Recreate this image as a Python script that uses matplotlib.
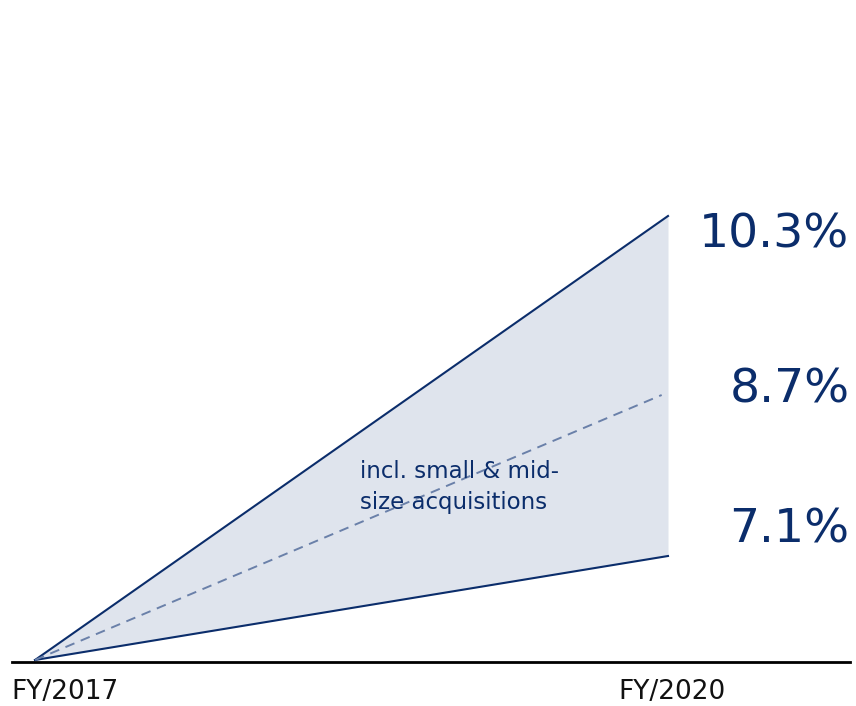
import matplotlib
matplotlib.use("Agg")
import matplotlib.pyplot as plt

# schematic growth corridor, FY/2017 -> FY/2020
years = [2017, 2020]
year_labels = ["FY/2017", "FY/2020"]
low_path = [0.0, 1.04]
mid_path = [0.0, 2.66]
high_path = [0.0, 4.44]
end_labels = ["7.1%", "8.7%", "10.3%"]
label_levels = [1.30, 2.70, 4.25]
note = "incl. small & mid-\nsize acquisitions"

navy = "#0b2d6b"
fill_col = "#dfe4ed"
dash_col = "#6a80a9"

fig = plt.figure(figsize=(8.56, 7.06), dpi=100)
ax = fig.add_axes([0, 0, 1, 1])
ax.set_xlim(2016.834, 2020.891)
ax.set_ylim(-0.46, 6.60)
ax.axis("off")

ax.fill_between(years, low_path, high_path, color=fill_col, lw=0)
ax.plot(years, high_path, color=navy, lw=1.5)
ax.plot(years, low_path, color=navy, lw=1.5)
ax.plot([years[0], years[1] - 0.03], [mid_path[0], mid_path[1] - 0.01],
        color=dash_col, lw=1.4, ls=(0, (5, 3.5)))

# baseline
ax.axhline(-0.02, xmin=0.014, xmax=0.993, color="black", lw=2)

ax.text(2016.89, -0.32, year_labels[0], fontsize=19, color="#111111",
        ha="left", va="center")
ax.text(2020.02, -0.32, year_labels[1], fontsize=19, color="#111111",
        ha="center", va="center")

for lab, lev in zip(end_labels, label_levels):
    ax.text(2020.86, lev, lab, fontsize=34, color=navy, ha="right", va="center")

ax.text(2018.54, 1.73, note, fontsize=16.5, color=navy, ha="left", va="center",
        linespacing=1.4)

fig.savefig("out.png", dpi=100)
